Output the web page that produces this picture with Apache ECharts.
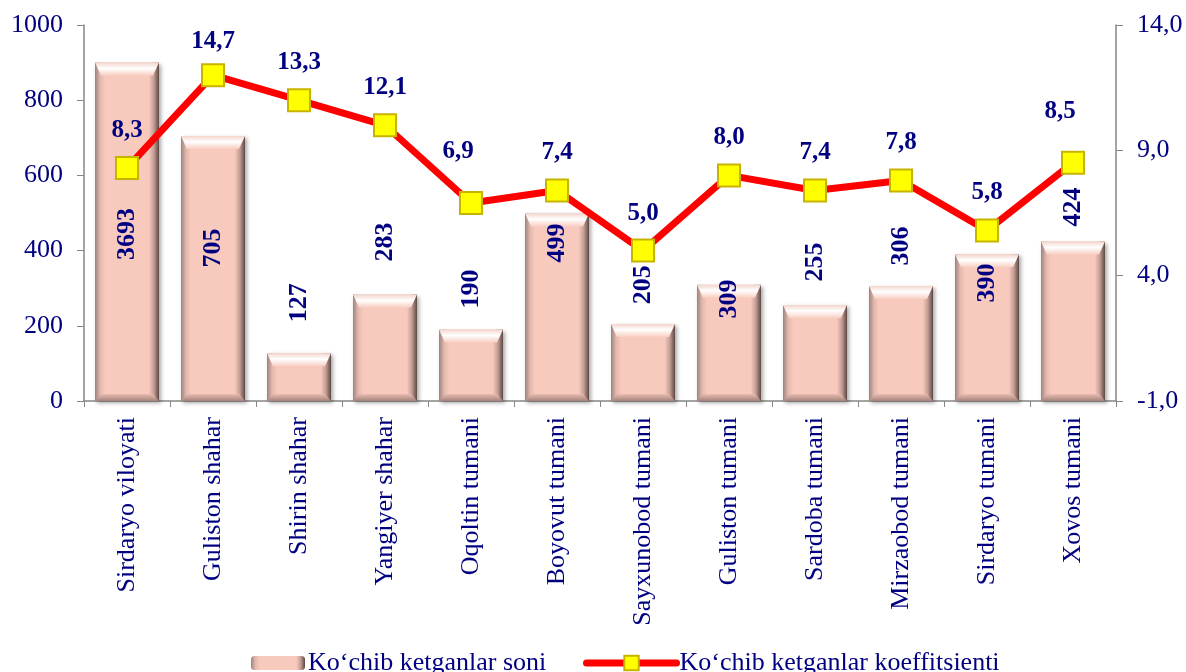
<!DOCTYPE html>
<html>
<head>
<meta charset="utf-8">
<script src="https://cdn.jsdelivr.net/npm/echarts@6/dist/echarts.min.js"></script>
<style>
  html, body { margin: 0; padding: 0; background: #fff; }
  #chart { width: 1186px; height: 672px; }
</style>
</head>
<body>
<div id="chart"></div>
<script>
// hududlar
const categories = [
  'Sirdaryo viloyati', 'Guliston shahar', 'Shirin shahar', 'Yangiyer shahar',
  'Oqoltin tumani', 'Boyovut tumani', 'Sayxunobod tumani', 'Guliston tumani',
  'Sardoba tumani', 'Mirzaobod tumani', 'Sirdaryo tumani', 'Xovos tumani'
]
// ustun balandligi (viloyat ustuni 900 da kesilgan)
const barHeights = [900, 705, 127, 283, 190, 499, 205, 309, 255, 306, 390, 424]
const barLabels = [3693, 705, 127, 283, 190, 499, 205, 309, 255, 306, 390, 424]
// koeffitsient: chizilgan nuqta va yozuv
const coefPoints = [8.3, 12.0, 11.0, 10.0, 6.9, 7.4, 5.0, 8.0, 7.4, 7.8, 5.8, 8.5]
const coefLabels = [8.3, 14.7, 13.3, 12.1, 6.9, 7.4, 5.0, 8.0, 7.4, 7.8, 5.8, 8.5]
// ustun yozuvlari markazi (chap o'q qiymatida)
const barLabelPos = [444, 407, 261, 423, 298, 420, 309, 271, 370, 412, 314, 516]

const navy = '#000080'
const font = 'Liberation Serif'
const barName = 'Ko‘chib ketganlar soni'
const lineName = 'Ko‘chib ketganlar koeffitsienti'
const comma = (v) => v.toFixed(1).replace('.', ',')
const BAR_W = 64

const chart = echarts.init(document.getElementById('chart'))

const barColor = new echarts.graphic.LinearGradient(0, 0, 1, 0, [
  { offset: 0, color: '#9c827e' },
  { offset: 0.08, color: '#e2b8ad' },
  { offset: 0.16, color: '#f8cabd' },
  { offset: 0.84, color: '#f8cabd' },
  { offset: 0.92, color: '#c29d94' },
  { offset: 1, color: '#5e4743' },
])

// ustun qirralari (bevel)
function renderBevel(params, api) {
  const top = api.coord([api.value(0), api.value(1)])
  const base = api.coord([api.value(0), 0])
  const x0 = top[0] - BAR_W / 2
  const x1 = top[0] + BAR_W / 2
  const y0 = top[1]
  const y1 = base[1]
  const s = 6
  const t = 13
  return {
    type: 'group',
    children: [
      {
        type: 'polygon',
        shape: { points: [[x0, y0], [x1, y0], [x1 - s, y0 + t], [x0 + s, y0 + t]] },
        style: {
          fill: new echarts.graphic.LinearGradient(0, 0, 0, 1, [
            { offset: 0, color: '#f3d5cc' },
            { offset: 0.45, color: '#ffffff' },
            { offset: 1, color: '#f8cec2' },
          ]),
        },
      },
      {
        type: 'polygon',
        shape: { points: [[x0 + s, y1 - 7], [x1 - s, y1 - 7], [x1, y1], [x0, y1]] },
        style: {
          fill: new echarts.graphic.LinearGradient(0, 0, 0, 1, [
            { offset: 0, color: '#e9bcb0' },
            { offset: 1, color: '#a4837c' },
          ]),
        },
      },
    ],
  }
}

const option = {
  animation: false,
  grid: { left: 84, right: 70, top: 25, bottom: 271 },
  legend: [
    {
      data: [barName],
      left: 246,
      top: 645,
      itemWidth: 54,
      itemHeight: 14,
      itemGap: 0,
      textStyle: { color: navy, fontFamily: font, fontSize: 26, padding: [0, 0, 0, -2] },
    },
    {
      data: [lineName],
      left: 578,
      top: 645,
      itemWidth: 90,
      itemHeight: 18,
      lineStyle: { width: 7, cap: 'round' },
      textStyle: { color: navy, fontFamily: font, fontSize: 26, padding: [0, 0, 0, -2] },
    },
  ],
  xAxis: {
    type: 'category',
    data: categories,
    axisLine: { lineStyle: { color: '#868686', width: 1.5 } },
    axisTick: { show: true, length: 6, lineStyle: { color: '#868686' } },
    axisLabel: {
      rotate: 90,
      margin: 16,
      interval: 0,
      color: navy,
      fontFamily: font,
      fontSize: 26,
    },
  },
  yAxis: [
    {
      type: 'value',
      min: 0,
      max: 1000,
      interval: 200,
      splitLine: { show: false },
      axisLine: { show: true, lineStyle: { color: '#868686', width: 1.5 } },
      axisTick: { show: true, length: 7, lineStyle: { color: '#868686' } },
      axisLabel: {
        color: navy,
        fontFamily: font,
        fontSize: 26,
        margin: 21,
        formatter: (v) => String(v),
      },
    },
    {
      type: 'value',
      min: -1,
      max: 14,
      interval: 5,
      splitLine: { show: false },
      axisLine: { show: true, lineStyle: { color: '#868686', width: 1.5 } },
      axisTick: { show: true, length: 7, lineStyle: { color: '#868686' } },
      axisLabel: {
        color: navy,
        fontFamily: font,
        fontSize: 26,
        margin: 21,
        formatter: (v) => comma(v),
      },
    },
  ],
  series: [
    {
      name: barName,
      type: 'bar',
      barWidth: BAR_W,
      data: barHeights,
      itemStyle: {
        color: barColor,
        shadowColor: 'rgba(0,0,0,0.35)',
        shadowBlur: 4,
        shadowOffsetX: 2,
        shadowOffsetY: 2,
      },
      z: 2,
    },
    {
      name: 'bevel',
      type: 'custom',
      silent: true,
      renderItem: renderBevel,
      data: barHeights.map((v, i) => [i, v]),
      encode: { x: 0, y: 1 },
      z: 3,
    },
    {
      // ustun yozuvlari uchun yashirin nuqtalar
      name: 'barLabels',
      type: 'scatter',
      yAxisIndex: 0,
      symbolSize: 0,
      silent: true,
      data: barLabelPos,
      itemStyle: { opacity: 1 },
      label: {
        show: true,
        position: 'inside',
        rotate: 90,
        color: navy,
        fontFamily: font,
        fontWeight: 'bold',
        fontSize: 26,
        formatter: (p) => String(barLabels[p.dataIndex]),
      },
      z: 4,
    },
    {
      name: lineName,
      type: 'line',
      yAxisIndex: 1,
      data: coefPoints.map((v, i) => {
        const item = { value: v }
        if (i === 4 || i === 11) item.label = { offset: [-13, -14] }
        if (i === 1) item.label = { offset: [0, 4] }
        return item
      }),
      symbol: 'rect',
      symbolSize: 22,
      lineStyle: { color: '#ff0000', width: 7 },
      itemStyle: { color: '#ffff00', borderColor: '#c8b400', borderWidth: 2 },
      label: {
        show: true,
        position: 'top',
        distance: 13,
        color: navy,
        fontFamily: font,
        fontWeight: 'bold',
        fontSize: 25,
        formatter: (p) => comma(coefLabels[p.dataIndex]),
      },
      z: 5,
    },
  ],
}

chart.setOption(option)
</script>
</body>
</html>
